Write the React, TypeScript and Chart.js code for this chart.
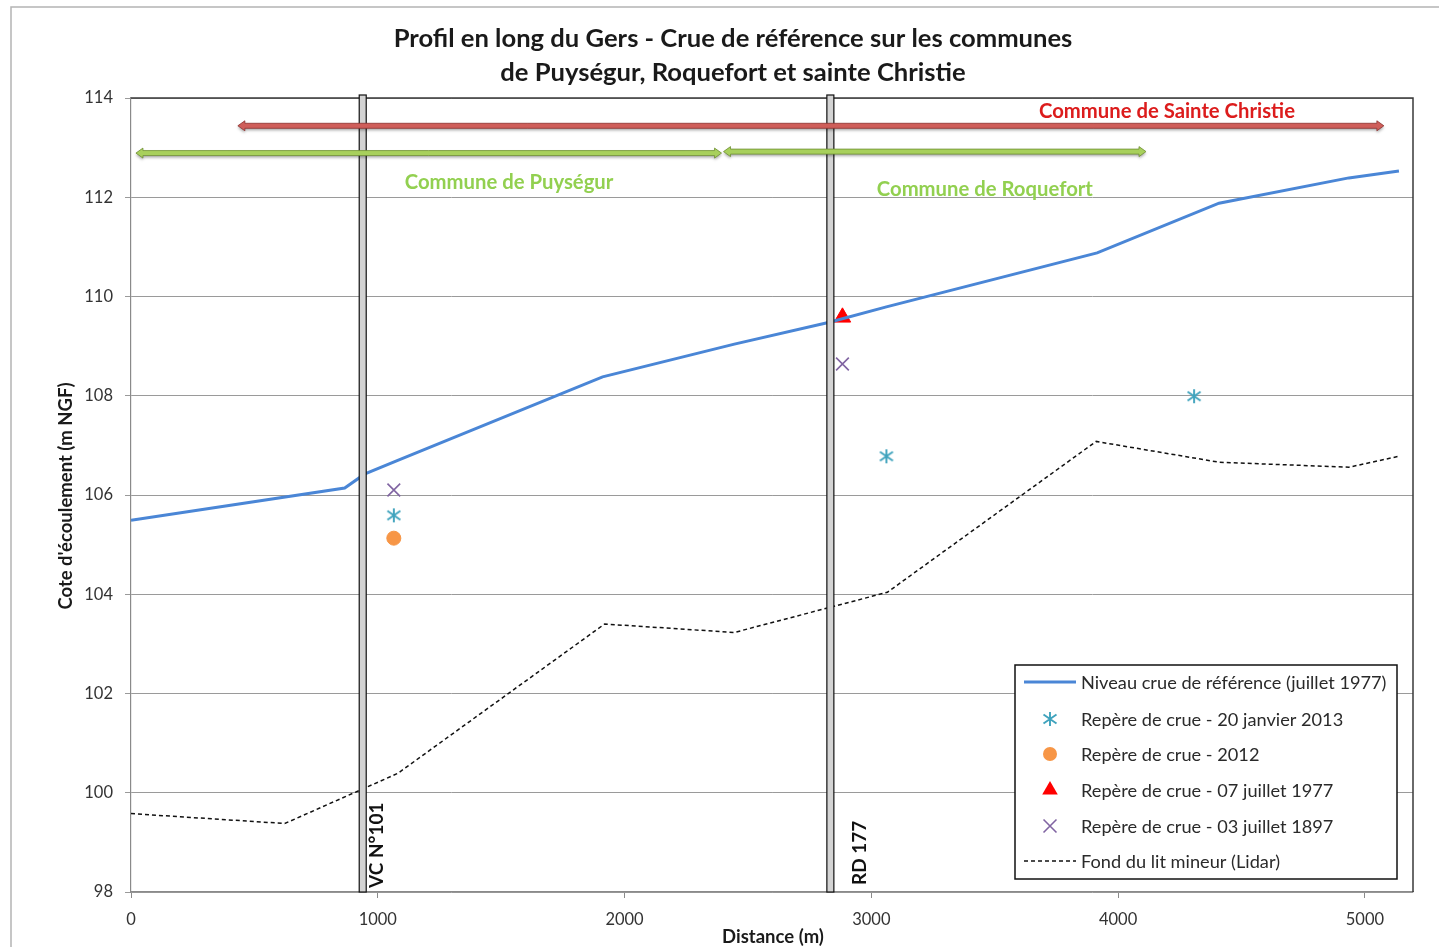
import React, { useEffect, useRef } from "react";
import { Chart, registerables } from "chart.js";

Chart.register(...registerables);

// ---------- DATA ----------
const titleLines = [
  "Profil en long du Gers - Crue de référence sur les communes",
  "de Puységur, Roquefort et sainte Christie",
];
const xAxisTitle = "Distance (m)";
const yAxisTitle = "Cote d'écoulement (m NGF)";
const xTickValues = [0, 1000, 2000, 3000, 4000, 5000];

// Niveau crue de référence (juillet 1977)
const refDistance = [0, 866, 946, 1081, 1911, 2445, 2830, 3061, 3915, 4409, 4935, 5138];
const refLevel = [105.49, 106.14, 106.42, 106.7, 108.38, 109.04, 109.48, 109.79, 110.88, 111.88, 112.39, 112.53];

// Fond du lit mineur (Lidar)
const bedDistance = [0, 623, 1081, 1919, 2445, 3065, 3911, 4409, 4935, 5138];
const bedLevel = [99.58, 99.38, 100.39, 103.4, 103.23, 104.04, 107.08, 106.66, 106.56, 106.78];

// Repères de crue
const mark2013Distance = [1065, 3061, 4308];
const mark2013Level = [105.59, 106.78, 107.99];
const mark2012Distance = [1065];
const mark2012Level = [105.13];
const mark1977Distance = [2883];
const mark1977Level = [109.58];
const mark1897Distance = [1065, 2883];
const mark1897Level = [106.1, 108.64];

const seriesLabels = [
  "Niveau crue de référence (juillet 1977)",
  "Repère de crue - 20 janvier 2013",
  "Repère de crue - 2012",
  "Repère de crue - 07 juillet 1977",
  "Repère de crue - 03 juillet 1897",
  "Fond du lit mineur (Lidar)",
];

// Ouvrages (ponts)
const bridgeNames = ["VC N°101", "RD 177"];
const bridgeDistance = [939, 2834];
const bridgeLabelDistance = [997, 2954];

// Communes (flèches)
const communeNames = ["Commune de Sainte Christie", "Commune de Puységur", "Commune de Roquefort"];
const communeStart = [433, 20, 2401];
const communeEnd = [5077, 2393, 4113];
const communeArrowLevel = [113.44, 112.89, 112.92];
const communeLabelDistance = [4198, 1532, 3460];
const communeLabelLevel = [113.72, 112.29, 112.15];
const communeColors = ["red", "green", "green"];

const pts = (xs: number[], ys: number[]) => xs.map((x, i) => ({ x, y: ys[i] }));

const FONT = "Lato, 'Open Sans', sans-serif";

function makeAsterisk(color: string) {
  const c = document.createElement("canvas");
  c.width = 18;
  c.height = 18;
  const g = c.getContext("2d")!;
  g.strokeStyle = color;
  g.lineWidth = 1.9;
  g.beginPath();
  g.moveTo(9, 2);
  g.lineTo(9, 16);
  g.moveTo(2.5, 4.5);
  g.lineTo(15.5, 13.5);
  g.moveTo(15.5, 4.5);
  g.lineTo(2.5, 13.5);
  g.stroke();
  return c;
}

function drawMarker(ctx: CanvasRenderingContext2D, style: any, x: number, y: number, r: number, color: string) {
  ctx.save();
  if (style instanceof HTMLCanvasElement) {
    ctx.drawImage(style, x - style.width / 2, y - style.height / 2);
  } else if (style === "circle") {
    ctx.fillStyle = color;
    ctx.beginPath();
    ctx.arc(x, y, r, 0, Math.PI * 2);
    ctx.fill();
  } else if (style === "triangle") {
    ctx.fillStyle = color;
    ctx.beginPath();
    ctx.moveTo(x, y - r);
    ctx.lineTo(x + r * 0.866, y + r * 0.5);
    ctx.lineTo(x - r * 0.866, y + r * 0.5);
    ctx.closePath();
    ctx.fill();
  } else if (style === "crossRot") {
    ctx.strokeStyle = color;
    ctx.lineWidth = 1.6;
    const d = r * 0.72;
    ctx.beginPath();
    ctx.moveTo(x - d, y - d);
    ctx.lineTo(x + d, y + d);
    ctx.moveTo(x + d, y - d);
    ctx.lineTo(x - d, y + d);
    ctx.stroke();
  }
  ctx.restore();
}

function drawArrow(ctx: CanvasRenderingContext2D, x1: number, x2: number, y: number, fill: string, stroke: string) {
  const h = 2.5, L = 7, H = 5;
  ctx.save();
  ctx.shadowColor = "rgba(0,0,0,0.35)";
  ctx.shadowBlur = 3;
  ctx.shadowOffsetY = 2;
  ctx.beginPath();
  ctx.moveTo(x1, y);
  ctx.lineTo(x1 + L, y - H);
  ctx.lineTo(x1 + L, y - h);
  ctx.lineTo(x2 - L, y - h);
  ctx.lineTo(x2 - L, y - H);
  ctx.lineTo(x2, y);
  ctx.lineTo(x2 - L, y + H);
  ctx.lineTo(x2 - L, y + h);
  ctx.lineTo(x1 + L, y + h);
  ctx.lineTo(x1 + L, y + H);
  ctx.closePath();
  ctx.fillStyle = fill;
  ctx.fill();
  ctx.shadowColor = "transparent";
  ctx.strokeStyle = stroke;
  ctx.lineWidth = 0.8;
  ctx.stroke();
  ctx.restore();
}

const decorPlugin = {
  id: "decor",
  beforeDraw(chart: any) {
    const ctx: CanvasRenderingContext2D = chart.ctx;
    ctx.save();
    ctx.fillStyle = "#fff";
    ctx.fillRect(0, 0, chart.width, chart.height);
    // outer frame
    ctx.strokeStyle = "#b4b4b4";
    ctx.lineWidth = 1.5;
    ctx.beginPath();
    ctx.moveTo(11, chart.height);
    ctx.lineTo(11, 7);
    ctx.lineTo(chart.width, 7);
    ctx.stroke();
    // title
    ctx.fillStyle = "#1a1a1a";
    ctx.font = `bold 25.6px ${FONT}`;
    ctx.textAlign = "center";
    ctx.textBaseline = "middle";
    ctx.fillText(titleLines[0], 733, 39);
    ctx.fillText(titleLines[1], 733, 73);
    // axis titles
    ctx.font = `bold 18.5px ${FONT}`;
    ctx.fillText(xAxisTitle, 773, 937);
    ctx.save();
    ctx.translate(66, 496);
    ctx.rotate(-Math.PI / 2);
    ctx.fillText(yAxisTitle, 0, 0);
    ctx.restore();
    ctx.restore();
  },
  afterDatasetsDraw(chart: any) {
    const ctx: CanvasRenderingContext2D = chart.ctx;
    const xs = chart.scales.x;
    const ys = chart.scales.y;
    const area = chart.chartArea;
    ctx.save();
    // plot frame (top & right dark)
    ctx.strokeStyle = "#3a3a3a";
    ctx.lineWidth = 1.5;
    ctx.beginPath();
    ctx.moveTo(area.left, area.top);
    ctx.lineTo(area.right, area.top);
    ctx.lineTo(area.right, area.bottom);
    ctx.stroke();
    // bridges
    bridgeDistance.forEach((d, i) => {
      const px = xs.getPixelForValue(d);
      ctx.fillStyle = "#d3d3d3";
      ctx.fillRect(px - 3.5, area.top - 3, 7, area.bottom - area.top + 3);
      ctx.strokeStyle = "#111";
      ctx.lineWidth = 1.2;
      ctx.strokeRect(px - 3.5, area.top - 3, 7, area.bottom - area.top + 3);
      const lx = xs.getPixelForValue(bridgeLabelDistance[i]);
      ctx.save();
      ctx.translate(lx, area.bottom - (i === 0 ? 4 : 7));
      ctx.rotate(-Math.PI / 2);
      ctx.fillStyle = "#111";
      ctx.font = `bold 19px ${FONT}`;
      ctx.textAlign = "left";
      ctx.textBaseline = "middle";
      ctx.fillText(bridgeNames[i], 0, 0);
      ctx.restore();
    });
    // commune arrows & labels
    communeNames.forEach((name, i) => {
      const red = communeColors[i] === "red";
      drawArrow(
        ctx,
        xs.getPixelForValue(communeStart[i]),
        xs.getPixelForValue(communeEnd[i]),
        ys.getPixelForValue(communeArrowLevel[i]),
        red ? "#cf5e5a" : "#a8d05c",
        red ? "#8c3230" : "#6f8f32"
      );
      ctx.fillStyle = red ? "#dc1c1c" : "#92d050";
      ctx.font = `bold 20.3px ${FONT}`;
      ctx.textAlign = "center";
      ctx.textBaseline = "middle";
      ctx.fillText(name, xs.getPixelForValue(communeLabelDistance[i]), ys.getPixelForValue(communeLabelLevel[i]));
    });
    ctx.restore();
  },
  afterDraw(chart: any) {
    const ctx: CanvasRenderingContext2D = chart.ctx;
    ctx.save();
    // legend box
    const bx = 1015, by = 665, bw = 382, bh = 214;
    ctx.fillStyle = "#fff";
    ctx.fillRect(bx, by, bw, bh);
    ctx.strokeStyle = "#111";
    ctx.lineWidth = 1.5;
    ctx.strokeRect(bx, by, bw, bh);
    const rowYs = [682, 719, 754, 790, 826, 861];
    chart.data.datasets.forEach((ds: any, i: number) => {
      const y = rowYs[i];
      if (ds.showLine) {
        ctx.save();
        ctx.strokeStyle = ds.borderColor;
        ctx.lineWidth = ds.borderWidth;
        ctx.setLineDash(ds.borderDash || []);
        ctx.beginPath();
        ctx.moveTo(1024, y);
        ctx.lineTo(1076, y);
        ctx.stroke();
        ctx.restore();
      } else {
        drawMarker(ctx, ds.pointStyle, 1050, y, ds.legendRadius, ds.pointBackgroundColor);
      }
      ctx.fillStyle = "#2a2a2a";
      ctx.font = `18.2px ${FONT}`;
      ctx.textAlign = "left";
      ctx.textBaseline = "middle";
      ctx.fillText(ds.label, 1081, y + 1);
    });
    ctx.restore();
  },
};

export default function App() {
  const ref = useRef<HTMLCanvasElement | null>(null);
  useEffect(() => {
    if (!ref.current) return;
    const asterisk = makeAsterisk("#3fa3bd");
    const chart = new Chart(ref.current, {
      type: "scatter",
      data: {
        datasets: [
          {
            label: seriesLabels[0],
            data: pts(refDistance, refLevel),
            showLine: true,
            borderColor: "#4a86d6",
            borderWidth: 3,
            pointRadius: 0,
          } as any,
          {
            label: seriesLabels[1],
            data: pts(mark2013Distance, mark2013Level),
            pointStyle: asterisk,
            pointBackgroundColor: "#3fa3bd",
            borderColor: "#3fa3bd",
            legendRadius: 8,
          },
          {
            label: seriesLabels[2],
            data: pts(mark2012Distance, mark2012Level),
            pointStyle: "circle",
            pointRadius: 7,
            pointBackgroundColor: "#f79646",
            pointBorderColor: "#f79646",
            borderColor: "#f79646",
            legendRadius: 7,
          },
          {
            label: seriesLabels[3],
            data: pts(mark1977Distance, mark1977Level),
            pointStyle: "triangle",
            pointRadius: 9.5,
            pointBackgroundColor: "#ff0000",
            pointBorderColor: "#ff0000",
            borderColor: "#ff0000",
            legendRadius: 9,
          },
          {
            label: seriesLabels[4],
            data: pts(mark1897Distance, mark1897Level),
            pointStyle: "crossRot",
            pointRadius: 9,
            pointBorderWidth: 1.6,
            pointBackgroundColor: "#8064a2",
            pointBorderColor: "#8064a2",
            borderColor: "#8064a2",
            legendRadius: 9,
          },
          {
            label: seriesLabels[5],
            data: pts(bedDistance, bedLevel),
            showLine: true,
            borderColor: "#111",
            borderWidth: 1.5,
            borderDash: [4, 3],
            pointRadius: 0,
          } as any,
        ] as any,
      },
      options: {
        animation: false,
        responsive: false,
        layout: { padding: { top: 98, right: 26, left: 0, bottom: 0 } },
        plugins: { legend: { display: false }, tooltip: { enabled: false }, title: { display: false } },
        scales: {
          x: {
            type: "linear",
            min: 0,
            max: 5195,
            afterBuildTicks: (s: any) => {
              s.ticks = xTickValues.map((v) => ({ value: v }));
            },
            afterFit: (s: any) => {
              s.height = 55;
            },
            grid: { drawOnChartArea: false, drawTicks: true, tickLength: 6, color: "#8a8a8a" },
            border: { color: "#8a8a8a", width: 1.2 },
            ticks: {
              font: { family: FONT, size: 16.5 },
              color: "#333",
              padding: 12,
              maxRotation: 0,
              callback: (v: any) => String(v),
            },
          },
          y: {
            type: "linear",
            min: 98,
            max: 114,
            ticks: {
              stepSize: 2,
              font: { family: FONT, size: 16.5 },
              color: "#333",
              padding: 12,
              callback: (v: any) => String(v),
            },
            afterFit: (s: any) => {
              s.width = 131;
            },
            grid: { color: "#9a9a9a", tickLength: 6, lineWidth: 1 },
            border: { color: "#8a8a8a", width: 1.2 },
          },
        },
      } as any,
      plugins: [decorPlugin],
    });
    return () => chart.destroy();
  }, []);
  return (
    <div style={{ position: "fixed", left: 0, top: 0, width: 1439, height: 947, background: "#fff" }}>
      <canvas ref={ref} width={1439} height={947} style={{ width: 1439, height: 947, display: "block" }} />
    </div>
  );
}
